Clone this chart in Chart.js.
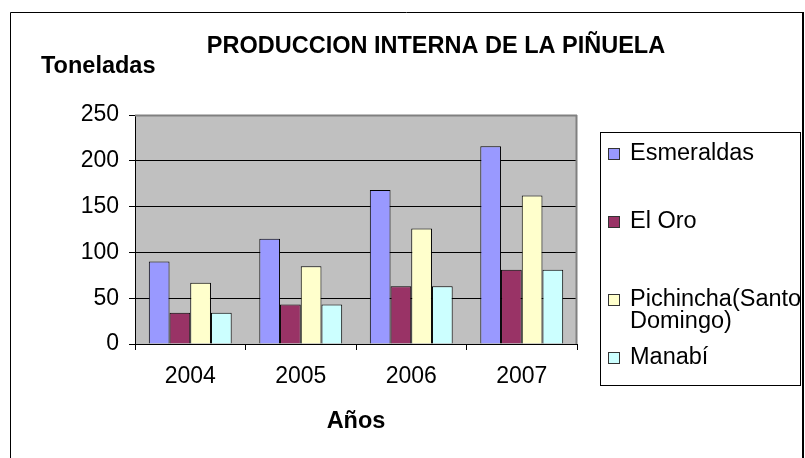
<!DOCTYPE html>
<html>
<head>
<meta charset="utf-8">
<script src="https://cdn.jsdelivr.net/npm/chart.js@4/dist/chart.umd.min.js"></script>
<style>
  html, body { margin: 0; padding: 0; background: #ffffff; }
  #wrap { width: 805px; height: 458px; position: relative; }
</style>
</head>
<body>
<div id="wrap"><canvas id="c" width="805" height="458"></canvas></div>
<script>
// ---- data ----
const chartTitle = 'PRODUCCION INTERNA DE LA PIÑUELA';
const yAxisTitle = 'Toneladas';
const xAxisTitle = 'Años';
const years = ['2004', '2005', '2006', '2007'];
const seriesNames = ['Esmeraldas', 'El Oro', 'Pichincha(Santo Domingo)', 'Manabí'];
const esmeraldas = [90, 115, 168, 216];
const elOro = [34, 43, 63, 81];
const pichincha = [67, 85, 126, 162];
const manabi = [34, 43, 63, 81];
const yTicks = [0, 50, 100, 150, 200, 250];

// ---- styles ----
const FONT = '"Liberation Sans", Arial, sans-serif';
const colors = ['#9999FF', '#993366', '#FFFFCC', '#CCFFFF'];
const values = [esmeraldas, elOro, pichincha, manabi];

const decorPlugin = {
  id: 'decor',
  beforeDraw(chart) {
    const ctx = chart.ctx;
    const a = chart.chartArea;
    ctx.save();
    ctx.fillStyle = '#ffffff';
    ctx.fillRect(0, 0, chart.width, chart.height);
    // outer frame
    ctx.strokeStyle = '#000000';
    ctx.lineWidth = 1;
    ctx.beginPath();
    ctx.moveTo(10.5, 470); ctx.lineTo(10.5, 12.5); ctx.lineTo(802.5, 12.5); ctx.lineTo(802.5, 470);
    ctx.stroke();
    ctx.lineWidth = 2;
    ctx.beginPath(); ctx.moveTo(803, 12); ctx.lineTo(803, 470); ctx.stroke();
    // plot background
    ctx.fillStyle = '#C0C0C0';
    ctx.fillRect(a.left, a.top, a.right - a.left, a.bottom - a.top);
    // titles
    ctx.fillStyle = '#000000';
    ctx.textBaseline = 'middle';
    ctx.textAlign = 'center';
    ctx.font = 'bold 23.5px ' + FONT;
    ctx.fillText(chartTitle, 436, 47);
    ctx.textAlign = 'left';
    ctx.fillText(yAxisTitle, 41, 67);
    ctx.restore();
  },
  beforeDatasetsDraw(chart) {
    const ctx = chart.ctx;
    const a = chart.chartArea;
    ctx.save();
    ctx.strokeStyle = '#808080';
    ctx.lineWidth = 2;
    ctx.beginPath();
    ctx.moveTo(a.left, a.top + 0.5); ctx.lineTo(a.right, a.top + 0.5);
    ctx.moveTo(a.right - 0.5, a.top); ctx.lineTo(a.right - 0.5, a.bottom);
    ctx.stroke();
    ctx.restore();
  },
  afterDraw(chart) {
    const ctx = chart.ctx;
    ctx.save();
    // legend box
    ctx.strokeStyle = '#000000';
    ctx.lineWidth = 1;
    ctx.strokeRect(600.5, 132.5, 200, 253);
    ctx.font = '23.5px ' + FONT;
    ctx.textBaseline = 'middle';
    ctx.textAlign = 'left';
    const itemY = [154, 222, 300, 358];
    const maxW = 172;
    chart.data.datasets.forEach((ds, i) => {
      const y = itemY[i];
      ctx.fillStyle = ds.backgroundColor;
      ctx.fillRect(608, y - 6, 12, 12);
      ctx.strokeStyle = '#333333';
      ctx.lineWidth = 1;
      ctx.strokeRect(608.5, y - 5.5, 11, 11);
      // wrap label
      const words = ds.label.split(' ');
      const lines = [];
      let cur = '';
      words.forEach(w => {
        const t = cur ? cur + ' ' + w : w;
        if (cur && ctx.measureText(t).width > maxW) { lines.push(cur); cur = w; } else { cur = t; }
      });
      if (cur) lines.push(cur);
      ctx.fillStyle = '#000000';
      lines.forEach((ln, k) => ctx.fillText(ln, 630, y + k * 22));
    });
    ctx.restore();
  }
};

const chart = new Chart(document.getElementById('c'), {
  type: 'bar',
  data: {
    labels: years,
    datasets: seriesNames.map((n, i) => ({
      label: n,
      data: values[i],
      backgroundColor: colors[i],
      borderColor: '#000000',
      borderWidth: 1,
      categoryPercentage: 0.75,
      barPercentage: 1.0
    }))
  },
  options: {
    responsive: false,
    animation: false,
    devicePixelRatio: 1,
    layout: { padding: { left: 0, top: 115, right: 228, bottom: 0 } },
    plugins: {
      legend: { display: false },
      title: { display: false },
      tooltip: { enabled: false }
    },
    scales: {
      x: {
        afterFit(s) { s.height = 114; },
        grid: { display: true, drawOnChartArea: false, color: '#000000', tickLength: 6, offset: true },
        border: { display: true, color: '#000000', width: 1 },
        ticks: { color: '#000000', font: { family: FONT, size: 23 }, padding: 13, maxRotation: 0 },
        title: { display: true, text: xAxisTitle, color: '#000000', font: { family: FONT, size: 23.5, weight: 'bold' }, padding: { top: 0, bottom: 22 } }
      },
      y: {
        min: 0, max: 250,
        afterFit(s) { s.width = 135; },
        afterBuildTicks(s) { s.ticks = yTicks.map(v => ({ value: v })); },
        grid: {
          color: (c) => (c.tick && c.tick.value === 250 ? '#808080' : '#000000'),
          tickColor: '#000000',
          tickLength: 6,
          lineWidth: 1
        },
        border: { display: true, color: '#000000', width: 1 },
        ticks: { color: '#000000', font: { family: FONT, size: 23 }, padding: 10, stepSize: 50 }
      }
    }
  },
  plugins: [decorPlugin]
});
</script>
</body>
</html>
